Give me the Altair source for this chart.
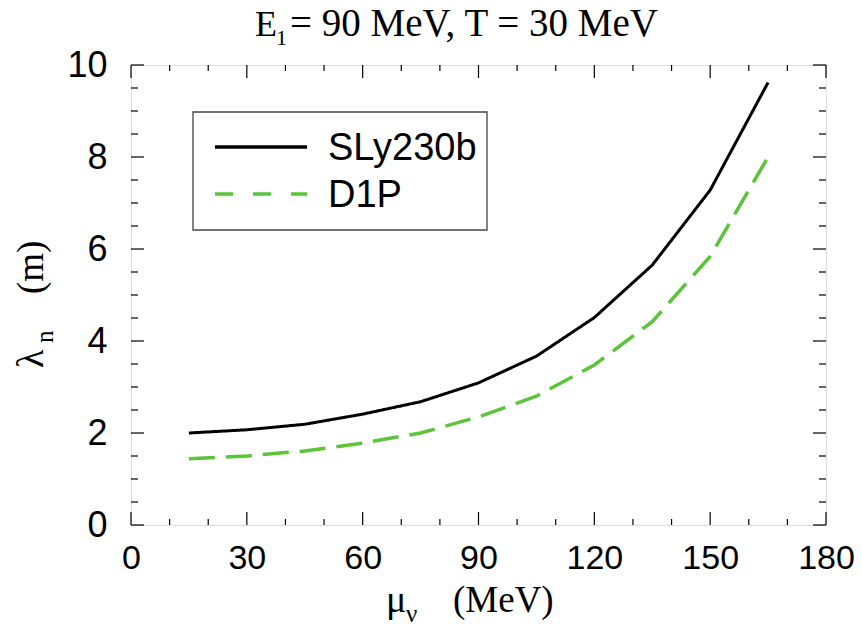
import altair as alt
import pandas as pd

# ---- data ----
mu_nu = [15, 30, 45, 60, 75, 90, 105, 120, 135, 150, 165]
sly230b = [2.00, 2.07, 2.19, 2.41, 2.68, 3.09, 3.67, 4.51, 5.65, 7.28, 9.62]
d1p = [1.44, 1.50, 1.61, 1.78, 2.00, 2.35, 2.80, 3.48, 4.42, 5.84, 8.00]
series_names = ["SLy230b", "D1P"]
series_colors = ["#000000", "#5bc43a"]
series_dash = [[1, 0], [26, 11]]
legend_dash = [[1, 0], [18, 20]]

x_major = [0, 30, 60, 90, 120, 150, 180]
x_minor = [10, 20, 40, 50, 70, 80, 100, 110, 130, 140, 160, 170]
y_major = [0, 2, 4, 6, 8, 10]
y_minor = [0.5, 1, 1.5, 2.5, 3, 3.5, 4.5, 5, 5.5, 6.5, 7, 7.5, 8.5, 9, 9.5]

W, H = 695, 460

df = pd.DataFrame({
    "mu": mu_nu * 2,
    "lam": sly230b + d1p,
    "series": [series_names[0]] * len(mu_nu) + [series_names[1]] * len(mu_nu),
})

xs = alt.Scale(domain=[0, 180], nice=False, zero=False)
ys = alt.Scale(domain=[0, 10], nice=False, zero=False)

base_x_axis = alt.Axis(values=x_major, labelFontSize=34, labelFont="Liberation Sans",
                       labelColor="black", ticks=False, domain=False, grid=False,
                       labelPadding=16, title=None, labelFlush=False)
base_y_axis = alt.Axis(values=y_major, labelFontSize=36, labelFont="Liberation Sans",
                       labelColor="black", ticks=False, domain=False, grid=False,
                       labelPadding=24, title=None, labelFlush=False)

layers = []
for name, col, dash in zip(series_names, series_colors, series_dash):
    layers.append(
        alt.Chart(df[df["series"] == name]).mark_line(
            color=col, strokeDash=dash, strokeWidth=3 if name == "SLy230b" else 3.5
        ).encode(
            x=alt.X("mu:Q", scale=xs, axis=base_x_axis),
            y=alt.Y("lam:Q", scale=ys, axis=base_y_axis),
            order="mu:Q",
        )
    )

# inward ticks on all four sides
def xticks(vals, length):
    d = pd.DataFrame({"v": vals})
    bot = alt.Chart(d).mark_rule(color="black", strokeWidth=1.2).encode(
        x=alt.X("v:Q", scale=xs), y=alt.value(H), y2=alt.value(H - length))
    top = alt.Chart(d).mark_rule(color="black", strokeWidth=1.2).encode(
        x=alt.X("v:Q", scale=xs), y=alt.value(0), y2=alt.value(length))
    return [bot, top]

def yticks(vals, length):
    d = pd.DataFrame({"v": vals})
    left = alt.Chart(d).mark_rule(color="black", strokeWidth=1.2).encode(
        y=alt.Y("v:Q", scale=ys), x=alt.value(0), x2=alt.value(length))
    right = alt.Chart(d).mark_rule(color="black", strokeWidth=1.2).encode(
        y=alt.Y("v:Q", scale=ys), x=alt.value(W), x2=alt.value(W - length))
    return [left, right]

tick_layers = xticks(x_major, 13) + xticks(x_minor, 6) + yticks(y_major, 13) + yticks(y_minor, 7)

# legend box
one = pd.DataFrame({"a": [0]})
legend_box = alt.Chart(one).mark_rect(fill="white", stroke="#444444", strokeWidth=1.3).encode(
    x=alt.value(62), x2=alt.value(356), y=alt.value(47), y2=alt.value(165))
legend_layers = [legend_box]
row_y = [82, 129]
for i, (name, col, dash) in enumerate(zip(series_names, series_colors, legend_dash)):
    legend_layers.append(
        alt.Chart(one).mark_rule(color=col, strokeDash=dash, strokeWidth=3.5).encode(
            x=alt.value(84), x2=alt.value(176), y=alt.value(row_y[i]))
    )
    legend_layers.append(
        alt.Chart(pd.DataFrame({"t": [name]})).mark_text(
            font="Liberation Sans", fontSize=38, align="left", baseline="alphabetic", color="black"
        ).encode(text="t:N", x=alt.value(197), y=alt.value(row_y[i] + 13))
    )

def txt(s, x, y, size, angle=0, align="left"):
    kw = dict(font="Liberation Serif", fontSize=size, align=align,
              baseline="alphabetic", color="black")
    if angle:
        kw["angle"] = angle
    return alt.Chart(pd.DataFrame({"t": [s]})).mark_text(**kw).encode(
        text="t:N", x=alt.value(x), y=alt.value(y))

text_layers = [
    # title: E_1 = 90 MeV, T = 30 MeV
    txt("E", 124, -29, 36),
    txt("1", 145, -20, 22),
    txt("= 90 MeV, T = 30 MeV", 159, -29, 39),
    # x title: mu_nu (MeV)
    txt("μ", 255, 547, 38),
    txt("ν", 275, 557, 25),
    txt("(MeV)", 322, 547, 37),
    # y title: lambda_n (m)
    txt("λ", -88, 303, 38, angle=270),
    txt("n", -78, 278, 25, angle=270),
    txt("(m)", -88, 229, 37, angle=270),
]

chart = alt.layer(*(tick_layers + layers + legend_layers + text_layers)).properties(
    width=W, height=H,
    autosize=alt.AutoSizeParams(type="none"),
    padding={"left": 123, "top": 57, "right": 28, "bottom": 102},
).configure_view(
    stroke="black", strokeWidth=1.5
).configure(background="white")

chart.save("out.html", embed_options={"renderer": "svg", "actions": False})
